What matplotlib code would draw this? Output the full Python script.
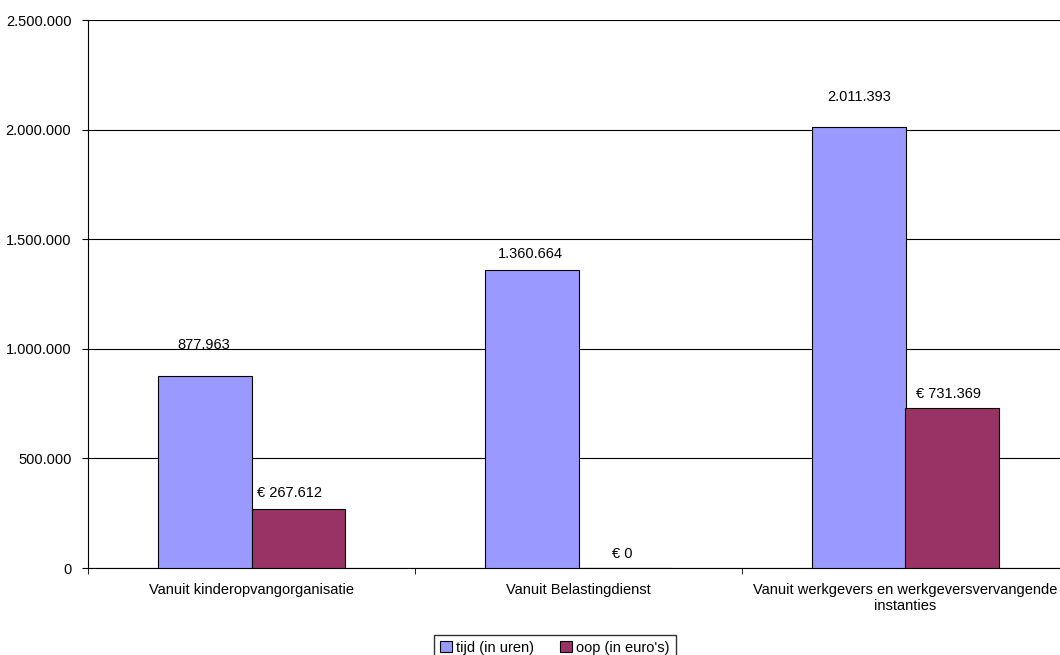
import matplotlib.pyplot as plt
import matplotlib.ticker as mticker
import numpy as np

plt.rcParams['font.family'] = ['Liberation Sans', 'DejaVu Sans']
plt.rcParams['font.size'] = 10.5

categories = ['Vanuit kinderopvangorganisatie', 'Vanuit Belastingdienst',
              'Vanuit werkgevers en werkgeversvervangende\ninstanties']
tijd = [877963, 1360664, 2011393]
oop = [267612, 0, 731369]
tijd_labels = ['877.963', '1.360.664', '2.011.393']
oop_labels = ['€ 267.612', '€ 0', '€ 731.369']


def dotfmt(v, pos):
    return f'{int(v):,}'.replace(',', '.')


fig = plt.figure(figsize=(10.6, 6.55), dpi=100)
ax = fig.add_axes([88/1060, 87/655, 981/1060, 548/655])

x = np.arange(len(categories))
w = 0.286
b1 = ax.bar(x - w/2, tijd, w, color='#9999FF', edgecolor='black', linewidth=0.8,
            label='tijd (in uren)', zorder=3)
b2 = ax.bar(x + w/2, oop, w, color='#993366', edgecolor='black', linewidth=0.8,
            label="oop (in euro's)", zorder=3)

# label offsets in points (as in the original export, not all centred)
off1 = [(-1, 17), (-1, 6.5), (0, 16.5)]
off2 = [(-6, 6.5), (-2, 5), (-3, 4.5)]
for i in range(len(x)):
    ax.annotate(tijd_labels[i], (x[i] - w/2, tijd[i]), xytext=off1[i],
                textcoords='offset points', ha='center', va='bottom')
    ax.annotate(oop_labels[i], (x[i] + w/2, oop[i]), xytext=off2[i],
                textcoords='offset points', ha='center', va='bottom')

ax.set_xlim(-0.5, 2.5)
ax.set_ylim(0, 2500000)
ax.yaxis.set_major_locator(mticker.MultipleLocator(500000))
ax.yaxis.set_major_formatter(mticker.FuncFormatter(dotfmt))
ax.set_xticks(x)
ax.set_xticklabels(categories)
ax.tick_params(axis='x', length=0, pad=11)
ax.set_xticks([-0.5, 0.5, 1.5], minor=True)
ax.tick_params(axis='x', which='minor', length=4, direction='out')
ax.tick_params(axis='y', length=4, direction='out', pad=8)
ax.grid(axis='y', color='black', linewidth=0.8, zorder=0)
ax.spines['top'].set_visible(False)
ax.spines['right'].set_visible(False)

fig.legend(loc='lower center', bbox_to_anchor=(555/1060, -0.02), ncol=2,
           frameon=True, fancybox=False, edgecolor='black', handlelength=0.8,
           handleheight=0.8, handletextpad=0.3, columnspacing=1.8,
           borderpad=0.4)

fig.savefig('out.png', dpi=100)
